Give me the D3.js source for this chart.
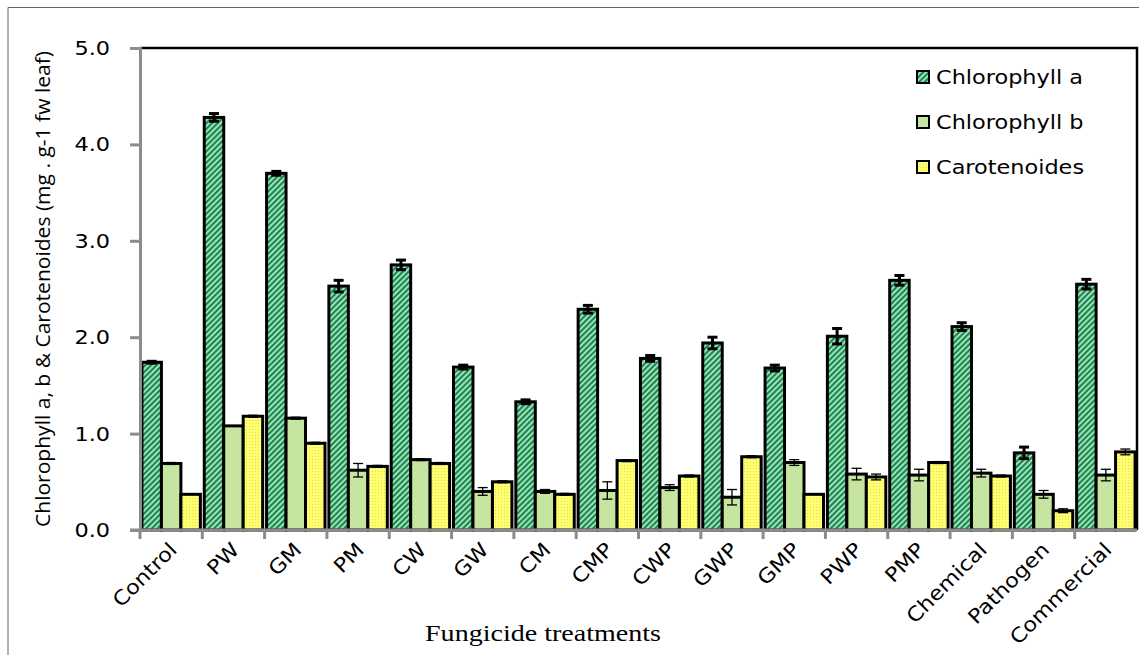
<!DOCTYPE html>
<html>
<head>
<meta charset="utf-8">
<script src="https://cdn.jsdelivr.net/npm/d3@7/dist/d3.min.js"></script>
<style>
  body { margin: 0; background: #fff; }
  svg { display: block; }
</style>
</head>
<body>
<svg id="chart" width="1139" height="655"></svg>
<script>
const width = 1139;
const height = 655;

// Data
const treatments = ["Control", "PW", "GM", "PM", "CW", "GW", "CM", "CMP", "CWP", "GWP", "GMP", "PWP", "PMP", "Chemical", "Pathogen", "Commercial"];
const seriesNames = ["Chlorophyll a", "Chlorophyll b", "Carotenoides"];
const chlA = [1.74, 4.28, 3.70, 2.53, 2.75, 1.69, 1.33, 2.29, 1.78, 1.94, 1.68, 2.01, 2.59, 2.11, 0.80, 2.55];
const chlB = [0.69, 1.08, 1.16, 0.62, 0.73, 0.40, 0.40, 0.41, 0.44, 0.34, 0.70, 0.58, 0.57, 0.59, 0.37, 0.57];
const carot = [0.37, 1.18, 0.90, 0.66, 0.69, 0.50, 0.37, 0.72, 0.56, 0.76, 0.37, 0.55, 0.70, 0.56, 0.20, 0.81];
const chlAErr = [0.01, 0.04, 0.02, 0.06, 0.05, 0.02, 0.02, 0.04, 0.03, 0.06, 0.03, 0.08, 0.05, 0.04, 0.06, 0.05];
const chlBErr = [0.01, 0.00, 0.01, 0.07, 0.01, 0.04, 0.02, 0.09, 0.03, 0.08, 0.03, 0.06, 0.06, 0.04, 0.04, 0.06];
const carotErr = [0.00, 0.01, 0.01, 0.01, 0.01, 0.01, 0.01, 0.01, 0.01, 0.01, 0.00, 0.03, 0.01, 0.01, 0.02, 0.03];
const yTicks = [0, 1, 2, 3, 4, 5];

const series = [
    {name: seriesNames[0], values: chlA, errs: chlAErr, fill: "url(#hatchA)", errWidth: 3},
    {name: seriesNames[1], values: chlB, errs: chlBErr, fill: "#c6e5a1", errWidth: 1.3},
    {name: seriesNames[2], values: carot, errs: carotErr, fill: "url(#dotsC)", errWidth: 1.3}
];

const margin = {top: 48, right: 2, bottom: 125, left: 140};
const stretch = 1.12; // the reference text looks a bit wide

const svg = d3.select("#chart");
const defs = svg.append("defs");

// Diagonal hatch for Chlorophyll a
const hatch = defs.append("pattern")
    .attr("id", "hatchA")
    .attr("patternUnits", "userSpaceOnUse")
    .attr("width", 4)
    .attr("height", 4)
    .attr("patternTransform", "rotate(45)");
hatch.append("rect").attr("width", 4).attr("height", 4).attr("fill", "#a4dcbc");
hatch.append("rect").attr("width", 2).attr("height", 4).attr("fill", "#138a4c");

// Fine dots for Carotenoides
const dots = defs.append("pattern")
    .attr("id", "dotsC")
    .attr("patternUnits", "userSpaceOnUse")
    .attr("width", 3)
    .attr("height", 3);
dots.append("rect").attr("width", 3).attr("height", 3).attr("fill", "#ffff70");
dots.append("rect").attr("width", 1).attr("height", 1).attr("fill", "#e0dc60");

// Outer frame
svg.append("path")
    .attr("d", `M8,${height} V7.5 H${width}`)
    .attr("fill", "none")
    .attr("stroke", "#666")
    .attr("stroke-width", 1);

const x = d3.scaleBand()
    .domain(treatments)
    .range([margin.left, width - margin.right])
    .paddingInner(0)
    .paddingOuter(0);

const xInner = d3.scaleBand()
    .domain(seriesNames)
    .range([0, x.bandwidth()])
    .paddingOuter(0.1);

const y = d3.scaleLinear()
    .domain([0, 5])
    .range([height - margin.bottom, margin.top]);

const g = svg.append("g");

// Plot area top and right border
g.append("path")
    .attr("d", `M${margin.left},${y(5)} H${width - margin.right} V${y(0)}`)
    .attr("fill", "none")
    .attr("stroke", "#000")
    .attr("stroke-width", 2.5);

// Bars
series.forEach(s => {
    g.append("g")
      .selectAll("rect")
      .data(treatments)
      .enter()
      .append("rect")
      .attr("x", (d, i) => x(d) + xInner(s.name))
      .attr("y", (d, i) => y(s.values[i]))
      .attr("width", xInner.bandwidth())
      .attr("height", (d, i) => y(0) - y(s.values[i]))
      .attr("fill", s.fill)
      .attr("stroke", "#000")
      .attr("stroke-width", 3);
});

// Error bars
series.forEach(s => {
    const eg = g.append("g")
        .attr("stroke", "#000")
        .attr("stroke-width", s.errWidth);
    treatments.forEach((d, i) => {
        const cx = x(d) + xInner(s.name) + xInner.bandwidth() / 2;
        const hi = y(s.values[i] + s.errs[i]);
        const lo = y(s.values[i] - s.errs[i]);
        const cap = 5;
        eg.append("line").attr("x1", cx).attr("x2", cx).attr("y1", hi).attr("y2", lo);
        eg.append("line").attr("x1", cx - cap).attr("x2", cx + cap).attr("y1", hi).attr("y2", hi);
        eg.append("line").attr("x1", cx - cap).attr("x2", cx + cap).attr("y1", lo).attr("y2", lo);
    });
});

// Y axis
const yAxis = g.append("g")
    .attr("transform", `translate(${margin.left},0)`)
    .call(d3.axisLeft(y).tickValues(yTicks).tickFormat(d3.format(".1f")).tickSize(10).tickPadding(20));
yAxis.select(".domain").attr("stroke", "#8c8c8c").attr("stroke-width", 3);
yAxis.selectAll(".tick line").attr("stroke", "#8c8c8c").attr("stroke-width", 3);
yAxis.selectAll(".tick text")
    .attr("x", null)
    .attr("transform", `translate(-30,0) scale(${stretch},1)`)
    .attr("font-family", "DejaVu Sans, Verdana, sans-serif")
    .attr("font-size", "20px")
    .attr("fill", "#000");

// X axis: ticks at category boundaries
const xAxisG = g.append("g")
    .attr("transform", `translate(0,${y(0)})`);
xAxisG.append("line")
    .attr("x1", margin.left - 10)
    .attr("x2", width - margin.right)
    .attr("stroke", "#8c8c8c")
    .attr("stroke-width", 3);
xAxisG.selectAll(".xtick")
    .data(treatments)
    .enter()
    .append("line")
    .attr("class", "xtick")
    .attr("x1", d => x(d))
    .attr("x2", d => x(d))
    .attr("y1", 0)
    .attr("y2", 9)
    .attr("stroke", "#8c8c8c")
    .attr("stroke-width", 3);
xAxisG.selectAll(".xlabel")
    .data(treatments)
    .enter()
    .append("text")
    .attr("class", "xlabel")
    .attr("text-anchor", "end")
    .attr("transform", d => `translate(${x(d) + x.bandwidth() / 2 + 7},${21}) rotate(-45) scale(${stretch},1)`)
    .attr("font-family", "DejaVu Sans, Verdana, sans-serif")
    .attr("font-size", "20px")
    .attr("fill", "#000")
    .text(d => d);

// Axis titles
svg.append("text")
    .attr("transform", `translate(50,${(y(0) + y(5)) / 2}) rotate(-90)`)
    .attr("text-anchor", "middle")
    .attr("font-family", "Liberation Sans Narrow, Open Sans, sans-serif")
    .attr("font-size", "20px")
    .attr("textLength", 476)
    .attr("lengthAdjust", "spacingAndGlyphs")
    .attr("fill", "#000")
    .text("Chlorophyll a, b & Carotenoides (mg . g-1 fw leaf)");

svg.append("text")
    .attr("transform", "translate(543,641) scale(1.22,1)")
    .attr("text-anchor", "middle")
    .attr("font-family", "Liberation Serif, Times New Roman, serif")
    .attr("font-size", "23px")
    .attr("fill", "#000")
    .text("Fungicide treatments");

// Legend
const legend = svg.append("g")
    .attr("transform", "translate(917,77)");
series.forEach((s, i) => {
    const row = legend.append("g").attr("transform", `translate(0,${i * 45})`);
    row.append("rect")
        .attr("x", 0)
        .attr("y", -6)
        .attr("width", 12)
        .attr("height", 12)
        .attr("fill", s.fill)
        .attr("stroke", "#000")
        .attr("stroke-width", 2);
    row.append("text")
        .attr("transform", `translate(19,0) scale(${stretch},1)`)
        .attr("dy", "0.35em")
        .attr("font-family", "DejaVu Sans, Verdana, sans-serif")
        .attr("font-size", "20px")
        .attr("fill", "#000")
        .text(s.name);
});
</script>
</body>
</html>
